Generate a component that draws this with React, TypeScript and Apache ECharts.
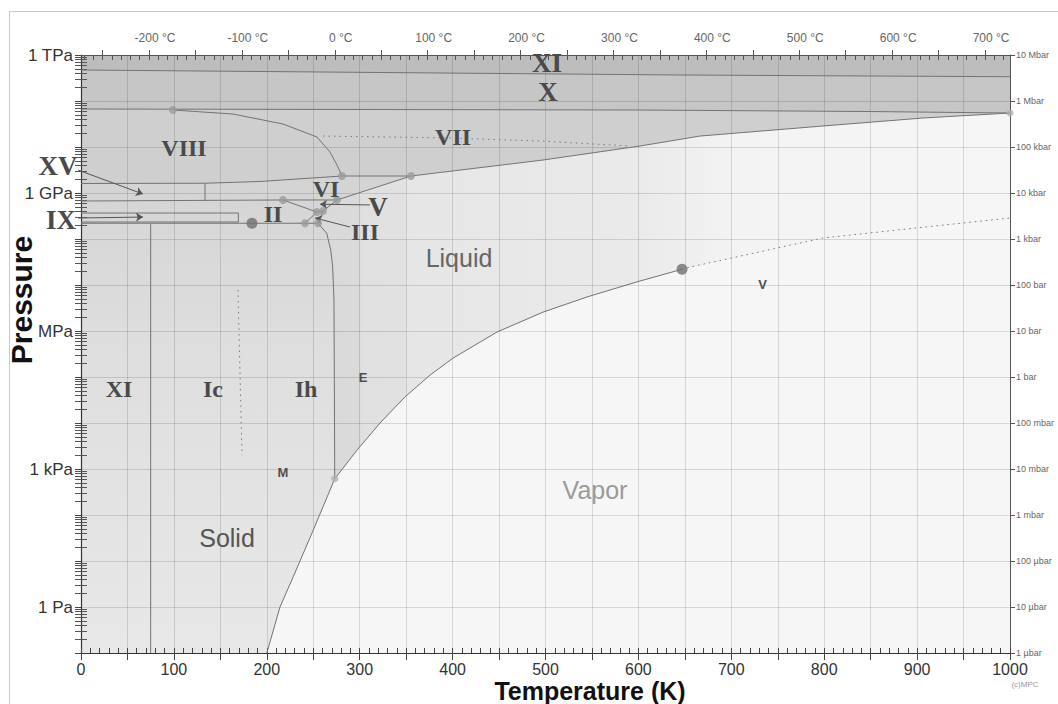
import React, { useEffect, useRef } from "react";
import * as echarts from "echarts";

// ---------------- axis values ----------------
const T_MIN = 0;
const T_MAX = 1000;
const P_MIN = 0.1;
const P_MAX = 1e12;
const KELVIN_OFFSET = 273.15;
const celsiusLabels = [-200, -100, 0, 100, 200, 300, 400, 500, 600, 700];
const celsiusMajorTicks = [-250, -200, -150, -100, -50, 0, 50, 100, 150, 200, 250, 300, 350, 400, 450, 500, 550, 600, 650, 700];
const pressureDecades = [0.1, 1, 10, 100, 1e3, 1e4, 1e5, 1e6, 1e7, 1e8, 1e9, 1e10, 1e11, 1e12];
const leftTickLabels = ["", "1 Pa", "", "", "1 kPa", "", "", "MPa", "", "", "1 GPa", "", "", "1 TPa"];
const rightTickLabels = ["1 µbar", "10 µbar", "100 µbar", "1 mbar", "10 mbar", "100 mbar", "1 bar", "10 bar", "100 bar", "1 kbar", "10 kbar", "100 kbar", "1 Mbar", "10 Mbar"];
const logMantissas = [2, 3, 4, 5, 6, 7, 8, 9];

// ---------------- phase boundaries: [T (K), P (Pa)] ----------------
const xxiLine = [[0, 4.72e11], [350, 4.12e11], [650, 3.67e11], [1000, 3.37e11]];
const xLine = [[0, 6.7e10], [600, 6.37e10], [850, 5.9e10], [1000, 5.48e10]];
const viiiViiCurve = [[99, 6.37e10], [163.6, 5.21e10], [217.4, 3.16e10], [254, 1.65e10], [268, 7.78e9], [275.6, 4.06e9], [280.9, 2.34e9]];
const viiDotted = [[260.5, 1.73e10], [397.2, 1.57e10], [494.1, 1.35e10], [591, 1.05e10]];
const viiMelt = [[355.2, 2.34e9], [497.3, 5.21e9], [601.7, 1.05e10], [666.3, 1.73e10], [798.7, 2.86e10], [906.4, 4.27e10], [1000, 5.48e10]];
const viiiViLine = [[0, 1.61e9], [133.5, 1.63e9], [192.7, 1.78e9], [280.9, 2.34e9]];
const viViiLine = [[280.9, 2.34e9], [355.2, 2.34e9]];
const xvViLine = [[133.5, 1.63e9], [133.5, 6.7e8]];
const viLowerLine = [[0, 6.7e8], [217.4, 7.05e8], [275.6, 7.05e8]];
const iiVLine = [[217.4, 7.05e8], [254, 3.86e8]];
const iiIiiLine = [[241.1, 2.2e8], [254, 3.86e8]];
const iiiVLine = [[254, 3.86e8], [260.5, 4.06e8]];
const meltHigh = [[255.1, 2.2e8], [260.5, 4.06e8], [275.6, 7.05e8], [355.2, 2.34e9]];
const ihLine = [[0, 2.2e8], [255.1, 2.2e8]];
const ixBox = [[0, 3.67e8], [169.4, 3.67e8], [169.4, 2.34e8], [0, 2.34e8]];
const xiIhLine = [[75, 2.1e8], [75, 0.1]];
const icDotted = [[169, 7.8e6], [173.3, 2.0e3]];
const ihMelt = [[255.1, 2.2e8], [264.5, 1.33e8], [268.8, 5.8e7], [270.9, 2.5e7], [272.3, 4.7e6], [273.16, 612]];
const sublimation = [[273.16, 612], [250, 47], [228.5, 4.56], [214.2, 1.0], [200, 0.1]];
const vaporization = [[273.16, 612], [297.1, 2570], [321.9, 1.0e4], [348.8, 3.7e4], [375.7, 1.1e5], [400.4, 2.57e5], [447.8, 9.5e5], [497.3, 2.57e6], [544.7, 5.5e6], [598.5, 1.17e7], [647, 2.2e7]];
const supercritical = [[647, 2.2e7], [655.5, 2.45e7], [798.7, 1.05e8], [906.4, 1.8e8], [1000, 2.86e8]];

// ---------------- points ----------------
const grayDots = [[99, 6.37e10], [280.9, 2.34e9], [355.2, 2.34e9], [217.4, 7.05e8], [275.6, 7.05e8], [254, 3.86e8], [260.5, 4.06e8], [241.1, 2.2e8], [255.1, 2.2e8]];
const darkDots = [[184, 2.2e8], [647, 2.2e7]];
const lightDots = [[273.16, 612], [1000, 5.48e10]];

// ---------------- labels ----------------
const labelTexts = ["XI", "X", "VII", "VIII", "XV", "IX", "VI", "V", "II", "III", "XI", "Ic", "Ih", "Liquid", "Vapor", "Solid", "E", "M", "V"];
const labelT = [501.6, 502.7, 400.4, 110.9, -24.8, -21.5, 263.7, 319.7, 206.7, 305.7, 40.9, 142.1, 242.2, 406.9, 553.3, 157.2, 303.6, 217.4, 733.6];
const labelP = [6.7e11, 1.57e11, 1.65e10, 9.5e9, 3.86e9, 2.59e8, 1.22e9, 4.97e8, 3.49e8, 1.42e8, 5.5e4, 5.5e4, 5.5e4, 3.86e7, 349, 31.6, 1e5, 819, 1.05e7];
const labelKinds = ["romanL", "romanL", "roman", "roman", "romanL", "romanL", "roman", "romanL", "roman", "roman", "roman", "roman", "roman", "liquid", "vapor", "solid", "small", "small", "small"];

// pointer arrows: from label to target
const pointerFrom = [[-3.2, 3.16e9], [-3.2, 2.86e8], [311, 5.5e8], [289.6, 1.82e8]];
const pointerTo = [[66.7, 9.5e8], [66.7, 3.0e8], [257.3, 5.7e8], [251.9, 2.86e8]];

// ---------------- styles ----------------
const SANS = '"Liberation Sans", Arial, Helvetica, sans-serif';
const SERIF = '"Liberation Serif", "Times New Roman", serif';
const GRID_C = "rgba(0,0,0,0.13)";
const LINE_C = "#737373";

const labelStyles: Record<string, { font: string; fill: string }> = {
  roman: { font: `bold 24px ${SERIF}`, fill: "#4a4a4a" },
  romanL: { font: `bold 27px ${SERIF}`, fill: "#4a4a4a" },
  liquid: { font: `25px ${SANS}`, fill: "#666666" },
  vapor: { font: `25px ${SANS}`, fill: "#9a9a9a" },
  solid: { font: `25px ${SANS}`, fill: "#555555" },
  small: { font: `bold 13px ${SANS}`, fill: "#505050" },
};

const rev = (a: number[][]) => [...a].reverse();

export default function App() {
  const ref = useRef<HTMLDivElement>(null);

  useEffect(() => {
    if (!ref.current) return;
    const chart = echarts.init(ref.current, undefined, { renderer: "svg" });

    const celsiusMinorK: number[] = [];
    for (let c = -270; c <= 720; c += 10) celsiusMinorK.push(c + KELVIN_OFFSET);
    const minorLog: number[] = [];
    pressureDecades.slice(0, -1).forEach((d) => logMantissas.forEach((m) => minorLog.push(m * d)));

    const lowerSolidPoly = [...viiiViLine, ...viViiLine.slice(1), ...rev(meltHigh).slice(1), ...ihMelt.slice(1), ...sublimation.slice(1), [T_MIN, P_MIN]];
    const liquidPoly = [...viiMelt, ...rev(supercritical), ...rev(vaporization).slice(1), ...rev(ihMelt).slice(1), ...meltHigh.slice(1)];
    const vaporPoly = [...vaporization, ...supercritical.slice(1), [T_MAX, P_MIN], ...rev(sublimation)];
    const fullPoly = [[T_MIN, P_MAX], [T_MAX, P_MAX], [T_MAX, P_MIN], [T_MIN, P_MIN]];
    const belowXXI = [...xxiLine, [T_MAX, P_MIN], [T_MIN, P_MIN]];
    const belowX = [...xLine, [T_MAX, P_MIN], [T_MIN, P_MIN]];

    const regions = [
      { poly: fullPoly, fill: "#bdbdbd" },
      { poly: belowXXI, fill: "#c6c6c6" },
      { poly: belowX, fill: "#cfcfcf" },
      {
        poly: lowerSolidPoly,
        fill: new echarts.graphic.LinearGradient(0, 0, 0, 1, [
          { offset: 0, color: "#d3d3d3" },
          { offset: 0.1, color: "#d7d7d7" },
          { offset: 0.35, color: "#dedede" },
          { offset: 1, color: "#e8e8e8" },
        ]),
      },
      {
        poly: liquidPoly,
        fill: new echarts.graphic.LinearGradient(0, 0, 1, 0, [
          { offset: 0, color: "#d9d9d9" },
          { offset: 0.061, color: "#dadada" },
          { offset: 0.062, color: "#e0e0e0" },
          { offset: 0.126, color: "#e1e1e1" },
          { offset: 0.128, color: "#e6e6e6" },
          { offset: 0.46, color: "#eaeaea" },
          { offset: 0.6, color: "#f3f3f3" },
          { offset: 1, color: "#f6f6f6" },
        ]),
      },
      { poly: vaporPoly, fill: "#f6f6f6" },
    ];

    const curve = (data: number[][], dotted = false) => ({
      type: "line",
      data,
      symbol: "none",
      silent: true,
      z: 5,
      lineStyle: dotted ? { color: "#7a7a7a", width: 1, type: [1.5, 4] } : { color: LINE_C, width: 1 },
    });

    const solidCurves = [xxiLine, xLine, viiiViiCurve, viiMelt, viiiViLine, viViiLine, xvViLine, viLowerLine, iiVLine, iiIiiLine, iiiVLine, meltHigh, ihLine, ixBox, xiIhLine, ihMelt, sublimation, vaporization];
    const dottedCurves = [viiDotted, icDotted, supercritical];

    const dotSeries = (data: number[][], size: number, color: string) => ({
      type: "scatter",
      data,
      symbolSize: size,
      clip: false,
      silent: true,
      z: 7,
      itemStyle: { color },
    });

    const option: any = {
      animation: false,
      grid: { left: 81, top: 55, width: 929, height: 598, containLabel: false, outerBoundsMode: "none" },
      xAxis: [
        {
          type: "value", position: "bottom", min: T_MIN, max: T_MAX, interval: 50, z: 3,
          axisLine: { show: true, onZero: false, lineStyle: { color: "#333", width: 1.2 } },
          axisTick: { show: true, length: 7, lineStyle: { color: "#444" } },
          axisLabel: { formatter: (v: number) => (v % 100 === 0 ? String(v) : ""), fontSize: 16, color: "#333", fontFamily: SANS, margin: 8 },
          splitLine: { show: true, lineStyle: { color: GRID_C, width: 1 } },
        },
        {
          type: "value", position: "bottom", min: T_MIN, max: T_MAX, interval: 10, z: 3,
          axisLine: { show: false }, axisLabel: { show: false }, splitLine: { show: false },
          axisTick: { show: true, inside: true, length: 5, lineStyle: { color: "#444" } },
        },
        {
          type: "value", position: "top", min: T_MIN, max: T_MAX, z: 3,
          axisLine: { show: true, onZero: false, lineStyle: { color: "#555", width: 1 } },
          axisTick: { show: true, length: 5, customValues: celsiusMajorTicks.map((c) => c + KELVIN_OFFSET), lineStyle: { color: "#555" } },
          axisLabel: {
            customValues: celsiusLabels.map((c) => c + KELVIN_OFFSET),
            formatter: (v: number) => `${Math.round(v - KELVIN_OFFSET)} °C`,
            fontSize: 12, color: "#666", fontFamily: SANS, margin: 11, padding: [0, 0, 0, 12],
          },
          splitLine: { show: false },
        },
        {
          type: "value", position: "top", min: T_MIN, max: T_MAX, z: 3,
          axisLine: { show: false }, axisLabel: { show: false }, splitLine: { show: false },
          axisTick: { show: true, inside: true, length: 5, customValues: celsiusMinorK, lineStyle: { color: "#555" } },
        },
      ],
      yAxis: [
        {
          type: "log", logBase: 10, position: "left", min: P_MIN, max: P_MAX, z: 3,
          axisLine: { show: true, onZero: false, lineStyle: { color: "#333", width: 1.2 } },
          axisTick: { show: true, length: 6, customValues: pressureDecades, lineStyle: { color: "#444" } },
          axisLabel: {
            customValues: pressureDecades,
            formatter: (v: number) => leftTickLabels[Math.round(Math.log10(v)) + 1] || "",
            fontSize: 17, color: "#333", fontFamily: SANS, margin: 8,
          },
          splitLine: { show: true, lineStyle: { color: GRID_C, width: 1 } },
        },
        {
          type: "log", logBase: 10, position: "right", min: P_MIN, max: P_MAX, z: 3,
          axisLine: { show: true, onZero: false, lineStyle: { color: "#555", width: 1 } },
          axisTick: { show: true, length: 5, customValues: pressureDecades, lineStyle: { color: "#555" } },
          axisLabel: {
            customValues: pressureDecades,
            formatter: (v: number) => rightTickLabels[Math.round(Math.log10(v)) + 1] || "",
            fontSize: 9, color: "#666", fontFamily: SANS, margin: 6,
          },
          splitLine: { show: false },
        },
        {
          type: "log", logBase: 10, position: "left", min: P_MIN, max: P_MAX, z: 3,
          axisLine: { show: false }, axisLabel: { show: false }, splitLine: { show: false },
          axisTick: { show: true, inside: true, length: 6, customValues: minorLog, lineStyle: { color: "#555" } },
        },
        {
          type: "log", logBase: 10, position: "right", min: P_MIN, max: P_MAX, z: 3,
          axisLine: { show: false }, axisLabel: { show: false }, splitLine: { show: false },
          axisTick: { show: true, inside: true, length: 6, customValues: minorLog, lineStyle: { color: "#555" } },
        },
      ],
      series: [
        {
          type: "custom",
          coordinateSystem: "cartesian2d",
          silent: true,
          z: 1,
          clip: false,
          data: regions.map((_, i) => [500, 1e5, i]),
          renderItem: (params: any, api: any) => {
            const r = regions[params.dataIndex];
            const points = r.poly.map((p) => api.coord(p));
            return { type: "polygon", shape: { points }, style: { fill: r.fill } };
          },
        },
        ...solidCurves.map((d) => curve(d)),
        ...dottedCurves.map((d) => curve(d, true)),
        {
          type: "lines",
          coordinateSystem: "cartesian2d",
          silent: true,
          clip: false,
          z: 6,
          symbol: ["none", "arrow"],
          symbolSize: 7,
          lineStyle: { color: "#555", width: 1, opacity: 1 },
          data: pointerFrom.map((f, i) => ({ coords: [f, pointerTo[i]] })),
        },
        dotSeries(grayDots, 8, "#9b9b9b"),
        dotSeries(darkDots, 11, "#707070"),
        dotSeries(lightDots, 7, "#b0b0b0"),
        {
          type: "custom",
          coordinateSystem: "cartesian2d",
          silent: true,
          clip: false,
          z: 8,
          data: labelTexts.map((_, i) => [labelT[i], labelP[i], i]),
          renderItem: (params: any, api: any) => {
            const i = params.dataIndex;
            const [x, y] = api.coord([labelT[i], labelP[i]]);
            const st = labelStyles[labelKinds[i]];
            return {
              type: "text",
              x,
              y,
              style: { text: labelTexts[i], font: st.font, fill: st.fill, align: "center", verticalAlign: "middle" },
            };
          },
        },
      ],
      graphic: [
        { type: "rect", silent: true, z: -10, shape: { x: 9.5, y: 11.5, width: 1100, height: 800 }, style: { fill: "none", stroke: "#c8c8c8", lineWidth: 1 } },
        { type: "text", x: 590, y: 691, silent: true, style: { text: "Temperature (K)", font: `bold 25px ${SANS}`, fill: "#111", align: "center", verticalAlign: "middle" } },
        { type: "text", x: 21, y: 300, rotation: Math.PI / 2, silent: true, style: { text: "Pressure", font: `bold 30px ${SANS}`, fill: "#111", align: "center", verticalAlign: "middle" } },
        { type: "text", x: 1025, y: 684, silent: true, style: { text: "(c)MPC", font: `8px ${SANS}`, fill: "#999", align: "center", verticalAlign: "middle" } },
      ],
    };

    chart.setOption(option);
    return () => chart.dispose();
  }, []);

  return <div ref={ref} style={{ position: "fixed", left: 0, top: 0, width: 1058, height: 704, background: "#fff" }} />;
}
